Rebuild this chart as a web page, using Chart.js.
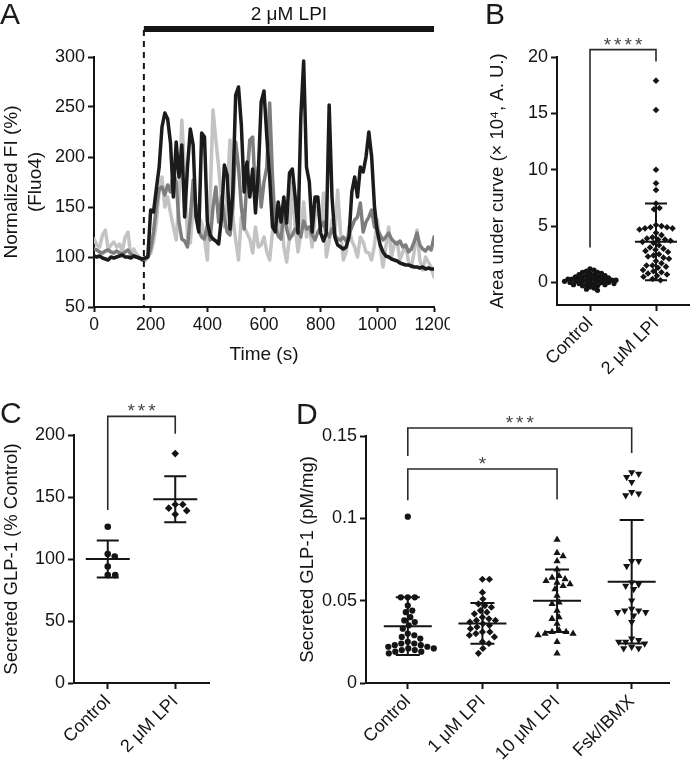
<!DOCTYPE html>
<html>
<head>
<meta charset="utf-8">
<script src="https://cdn.jsdelivr.net/npm/chart.js@4.4.1/dist/chart.umd.min.js"></script>
<style>
  body { margin: 0; background: #fff; width: 693px; height: 764px; position: relative; overflow: hidden;
         font-family: "Liberation Sans", Arial, sans-serif; }
  canvas { position: absolute; }
  .panel { position: absolute; font-size: 30px; line-height: 30px; color: #1a1a1a; }
</style>
</head>
<body>
<canvas id="chartA" width="450" height="370" style="left:0;top:0"></canvas>
<canvas id="chartC" width="250" height="394" style="left:0;top:370px"></canvas>
<canvas id="chartD" width="443" height="394" style="left:250px;top:370px"></canvas>
<canvas id="chartB" width="243" height="385" style="left:450px;top:0"></canvas>
<div class="panel" style="left:0;top:-1px">A</div>
<div class="panel" style="left:485px;top:-1px">B</div>
<div class="panel" style="left:0;top:398px">C</div>
<div class="panel" style="left:296px;top:399px">D</div>
<script>
Chart.defaults.font.family = '"Liberation Sans", Arial, sans-serif';
Chart.defaults.color = '#1a1a1a';

// ---------- A: Fluo4 traces (sampled every 10 s) ----------
const timeSec = Array.from({ length: 121 }, (_, i) => i * 10);
const traceBlack = [
  101,100,101,99,98,97,100,99,100,101,
  102,100,100,99,101,100,99,98,99,100,
  147,145,168,190,230,244,238,214,160,215,
  180,212,140,190,228,212,140,125,224,220,
  135,122,118,116,113,140,192,182,128,165,
  262,270,232,165,195,160,188,144,185,255,
  266,220,180,130,125,155,135,160,134,184,
  188,160,124,240,296,190,175,125,160,160,
  124,116,124,252,160,120,112,110,108,110,
  120,165,180,160,190,185,200,225,200,150,
  125,112,105,101,100,98,97,96,94,93,
  92,92,91,90,90,89,90,88,89,88,
  88
];
const traceDark = [
  108,107,105,104,106,107,105,104,106,104,
  103,105,107,103,101,100,99,97,98,100,
  108,125,150,168,170,162,172,165,184,175,
  135,118,116,110,140,177,145,126,120,118,
  132,117,150,170,135,160,140,125,122,150,
  215,190,150,128,180,217,220,160,190,150,
  175,190,254,180,130,122,118,144,128,118,
  122,128,125,120,136,128,130,122,117,125,
  130,135,125,120,128,122,118,117,120,116,
  122,130,137,140,154,125,135,140,147,130,
  128,122,117,120,124,118,115,113,116,110,
  112,105,108,115,124,112,108,106,110,107,
  120
];
const traceLight = [
  118,112,110,122,127,108,112,115,110,113,
  106,120,125,100,108,103,100,97,96,100,
  104,115,134,167,180,150,160,144,130,117,
  160,237,184,120,114,150,152,140,134,118,
  97,160,247,217,190,157,130,165,217,140,
  117,97,140,130,124,118,104,130,110,112,
  120,105,97,125,140,120,150,110,95,120,
  175,130,105,124,155,120,130,110,140,150,
  130,164,100,115,137,120,167,125,97,105,
  130,116,110,100,120,115,105,104,97,112,
  137,110,90,110,130,100,113,115,97,105,
  112,95,90,105,127,97,87,100,95,90,
  80
];
const aTicksX = [0, 200, 400, 600, 800, 1000, 1200];
const aTicksY = [50, 100, 150, 200, 250, 300];
const lpiStart = 176;      // s
const lpiEnd = 1200;
const lpiText = '2 μM LPI';

// ---------- B: area under curve ----------
const bCats = ['Control', '2 μM LPI'];
const bControl = [1.2,1.1,1.0,0.9,0.9,0.8,0.8,0.7,0.7,0.6,0.6,0.5,0.5,0.5,0.4,0.4,0.4,0.3,0.3,0.3,0.3,
  0.2,0.2,0.2,0.2,0.1,0.1,0.1,0.1,0.0,0.0,0.0,0.0,-0.1,-0.1,-0.1,-0.2,-0.2,-0.2,-0.3,-0.3,-0.4,-0.5,-0.6,-0.7];
const bLPI = [17.9,15.3,10.0,8.8,8.2,7.0,6.6,6.5,5.1,5.0,4.9,4.9,4.8,4.8,4.7,4.4,4.2,4.0,3.9,3.8,3.8,3.7,3.6,3.5,
  3.3,3.1,3.0,2.9,2.8,2.7,2.5,2.4,2.3,2.2,2.1,1.9,1.7,1.5,1.5,1.4,1.3,1.1,1.0,0.9,0.8,0.7,0.6,0.5,0.3,0.2];
const bMean = [0.2, 3.6];
const bSD = [0.4, 3.4];
const bTicksY = [0, 5, 10, 15, 20];
const bBrackets = [{ from: 0, to: 1, y: 20.65, left: 3.1, right: 19.6, text: '****' }];

// ---------- C: GLP-1 % control ----------
const cCats = ['Control', '2 μM LPI'];
const cControl = [126, 104, 102, 94, 87, 87];
const cLPI = [185, 144, 144, 141, 139, 136];
const cMean = [100, 148.2];
const cSD = [15, 18.6];
const cTicksY = [0, 50, 100, 150, 200];
const cBrackets = [{ from: 0, to: 1, y: 215, left: 139.5, right: 201, text: '***' }];

// ---------- D: GLP-1 pM/mg ----------
const dCats = ['Control', '1 μM LPI', '10 μM LPI', 'Fsk/IBMX'];
const dControl = [0.101,0.052,0.052,0.052,0.047,0.044,0.043,0.040,0.038,0.037,0.035,0.033,0.030,0.029,0.028,
  0.027,0.025,0.024,0.024,0.023,0.023,0.022,0.022,0.021,0.021,0.020,0.020,0.019,0.019,0.018];
const d1LPI = [0.063,0.063,0.055,0.051,0.048,0.047,0.046,0.044,0.043,0.042,0.040,0.039,0.038,0.038,
  0.037,0.036,0.035,0.034,0.033,0.031,0.031,0.030,0.029,0.028,0.025,0.024,0.021,0.018];
const d10LPI = [0.087,0.079,0.077,0.074,0.069,0.065,0.064,0.063,0.062,0.061,0.060,0.059,0.057,0.053,
  0.049,0.048,0.044,0.040,0.039,0.036,0.032,0.031,0.031,0.030,0.030,0.029,0.025,0.018];
const dFsk = [0.128,0.127,0.125,0.122,0.116,0.115,0.114,0.074,0.074,0.071,0.061,0.060,0.059,0.057,0.050,
  0.045,0.044,0.044,0.043,0.043,0.041,0.037,0.027,0.026,0.025,0.025,0.024,0.022,0.021,0.021];
const dMean = [0.0345, 0.0362, 0.050, 0.0615];
const dSD = [0.0175, 0.0124, 0.019, 0.0375];
const dTicksY = [0, 0.05, 0.1, 0.15];
const dTickLabels = ['0', '0.05', '0.1', '0.15'];
const dBrackets = [
  { from: 0, to: 3, y: 0.1549, left: 0.1379, right: 0.1397, text: '***' },
  { from: 0, to: 2, y: 0.130, left: 0.111, right: 0.1115, text: '*' }
];

const INK = '#141414';

// ---------- helpers ----------
function fixedBox(size, horizontal) {
  return s => {
    if (horizontal) s.height = size; else s.width = size;
    s.paddingLeft = 0; s.paddingRight = 0; s.paddingTop = 0; s.paddingBottom = 0;
  };
}

function valueAxis(min, max, ticks, width, title, titlePad, labels) {
  return {
    type: 'linear', position: 'left', min, max,
    afterBuildTicks: s => { s.ticks = ticks.map(v => ({ value: v })); },
    afterFit: fixedBox(width, false),
    ticks: { font: { size: 18 }, padding: 3, color: INK,
             callback: (v, i) => labels ? labels[i] : String(v) },
    grid: { drawOnChartArea: false, tickLength: 6, tickWidth: 2, tickColor: INK },
    border: { color: INK, width: 2 },
    title: { display: true, text: title, color: INK,
             font: { size: title.length === 2 ? 19 : 18.5, lineHeight: '24px' },
             padding: { top: titlePad, bottom: 0 } }
  };
}

function groupAxis(cats, min, max, height) {
  return {
    type: 'linear', min, max,
    afterBuildTicks: s => { s.ticks = cats.map((c, i) => ({ value: i })); },
    afterFit: fixedBox(height, true),
    ticks: { autoSkip: false, maxRotation: 45, minRotation: 45, padding: 2, color: INK,
             font: { size: 18 }, callback: v => cats[v] },
    grid: { drawOnChartArea: false, tickLength: 6, tickWidth: 2, tickColor: INK },
    border: { color: INK, width: 2 }
  };
}

function dots(values, group, style, radius, gap, rotation) {
  return {
    type: 'scatter', values, group, gap,
    data: values.map(v => ({ x: group, y: v })),
    pointStyle: style, pointRadius: radius, pointRotation: rotation || 0,
    backgroundColor: INK, borderColor: INK, pointBorderWidth: 0
  };
}

// mean ± SD lines
function summaryBars(means, sds, meanHalf, capHalf) {
  return {
    id: 'summaryBars',
    afterDatasetsDraw(chart) {
      const { ctx, scales: { x, y } } = chart;
      ctx.save();
      ctx.strokeStyle = INK;
      ctx.lineWidth = 2;
      means.forEach((m, i) => {
        const cx = x.getPixelForValue(i);
        const pm = y.getPixelForValue(m);
        const ph = y.getPixelForValue(m + sds[i]);
        const pl = y.getPixelForValue(m - sds[i]);
        ctx.beginPath();
        ctx.moveTo(cx - meanHalf, pm); ctx.lineTo(cx + meanHalf, pm);
        ctx.moveTo(cx, ph); ctx.lineTo(cx, pl);
        ctx.moveTo(cx - capHalf, ph); ctx.lineTo(cx + capHalf, ph);
        ctx.moveTo(cx - capHalf, pl); ctx.lineTo(cx + capHalf, pl);
        ctx.stroke();
      });
      ctx.restore();
    }
  };
}

// significance brackets
function sigBrackets(list) {
  return {
    id: 'sigBrackets',
    afterDraw(chart) {
      const { ctx, scales: { x, y } } = chart;
      ctx.save();
      list.forEach(b => {
        const x1 = x.getPixelForValue(b.from), x2 = x.getPixelForValue(b.to);
        const py = y.getPixelForValue(b.y);
        ctx.strokeStyle = '#2a2a2a';
        ctx.lineWidth = 1.6;
        ctx.beginPath();
        ctx.moveTo(x1, y.getPixelForValue(b.left));
        ctx.lineTo(x1, py);
        ctx.lineTo(x2, py);
        ctx.lineTo(x2, y.getPixelForValue(b.right));
        ctx.stroke();
        ctx.fillStyle = '#444';
        ctx.font = '19px "Liberation Sans", Arial, sans-serif';
        ctx.letterSpacing = '3px';
        ctx.textAlign = 'center';
        ctx.textBaseline = 'alphabetic';
        ctx.fillText(b.text, (x1 + x2) / 2 + 1.5, py + 1);
      });
      ctx.restore();
    }
  };
}

// spread dots sideways so they do not overlap (beeswarm)
function swarm(chart) {
  const { x, y } = chart.scales;
  const unit = x.getPixelForValue(1) - x.getPixelForValue(0);
  chart.data.datasets.forEach(ds => {
    const placed = [];
    const order = ds.values.map((v, i) => i).sort((a, b) => ds.values[b] - ds.values[a]);
    order.forEach(i => {
      const py = y.getPixelForValue(ds.values[i]);
      let off = 0;
      for (let k = 0; k < 400; k++) {
        off = (k % 2 ? 1 : -1) * Math.ceil(k / 2) * 0.5;
        if (placed.every(p => (p.x - off) ** 2 + (p.y - py) ** 2 >= ds.gap * ds.gap)) break;
      }
      placed.push({ x: off, y: py });
      ds.data[i] = { x: ds.group + off / unit, y: ds.values[i] };
    });
  });
  chart.update('none');
}

const baseOpts = {
  responsive: false, animation: false, devicePixelRatio: 1,
  plugins: { legend: { display: false }, tooltip: { enabled: false } }
};

// ---------- Chart A ----------
const lpiMarker = {
  id: 'lpiMarker',
  afterDraw(chart) {
    const { ctx, scales: { x, y } } = chart;
    const xs = x.getPixelForValue(lpiStart), xe = x.getPixelForValue(lpiEnd);
    const barY = y.getPixelForValue(328);
    ctx.save();
    ctx.strokeStyle = INK;
    ctx.lineWidth = 2;
    ctx.setLineDash([6, 5]);
    ctx.beginPath();
    ctx.moveTo(xs, barY + 1);
    ctx.lineTo(xs, y.getPixelForValue(50));
    ctx.stroke();
    ctx.setLineDash([]);
    ctx.lineWidth = 6;
    ctx.beginPath();
    ctx.moveTo(xs, barY);
    ctx.lineTo(xe, barY);
    ctx.stroke();
    ctx.fillStyle = INK;
    ctx.font = '19px "Liberation Sans", Arial, sans-serif';
    ctx.textAlign = 'center';
    ctx.textBaseline = 'alphabetic';
    ctx.fillText(lpiText, (xs + xe) / 2, barY - 9);
    ctx.restore();
  }
};

const trace = (vals, color) => ({
  data: timeSec.map((t, i) => ({ x: t, y: vals[i] })),
  borderColor: color, borderWidth: 3.5, pointRadius: 0, tension: 0,
  borderJoinStyle: 'round', borderCapStyle: 'round', fill: false
});

new Chart(document.getElementById('chartA'), {
  type: 'line',
  data: { datasets: [trace(traceBlack, '#1b1b1b'), trace(traceDark, '#7e7e7e'), trace(traceLight, '#c3c3c3')] },
  options: {
    ...baseOpts,
    layout: { padding: { left: 0, top: 57, right: 16, bottom: 0 } },
    scales: {
      x: {
        type: 'linear', min: 0, max: 1200,
        afterBuildTicks: s => { s.ticks = aTicksX.map(v => ({ value: v })); },
        afterFit: fixedBox(63, true),
        ticks: { font: { size: 17.5 }, padding: 3, color: INK, callback: v => String(v) },
        grid: { drawOnChartArea: false, tickLength: 5, tickWidth: 2, tickColor: INK },
        border: { color: INK, width: 2 },
        title: { display: true, text: 'Time (s)', color: INK, font: { size: 19 }, padding: { top: 0, bottom: 4 } }
      },
      y: valueAxis(50, 300, aTicksY, 94, ['Normalized FI (%)', '(Fluo4)'], 0)
    }
  },
  plugins: [lpiMarker]
});

// ---------- Chart B ----------
const chartB = new Chart(document.getElementById('chartB'), {
  type: 'scatter',
  data: { datasets: [dots(bControl, 0, 'circle', 2.6, 3.8), dots(bLPI, 1, 'rectRot', 3.3, 5.6)] },
  options: {
    ...baseOpts,
    layout: { padding: { left: 0, top: 57, right: 1, bottom: 0 } },
    scales: {
      x: groupAxis(bCats, -0.5, 1.5, 80),
      y: valueAxis(-2, 20, bTicksY, 107, 'Area under curve (× 10⁴, A. U.)', 36)
    }
  },
  plugins: [summaryBars(bMean, bSD, 21, 11), sigBrackets(bBrackets)]
});
swarm(chartB);

// ---------- Chart C ----------
const chartC = new Chart(document.getElementById('chartC'), {
  type: 'scatter',
  data: { datasets: [dots(cControl, 0, 'circle', 3.3, 7.2), dots(cLPI, 1, 'rectRot', 3.8, 7.2)] },
  options: {
    ...baseOpts,
    layout: { padding: { left: 0, top: 65, right: 41, bottom: 0 } },
    scales: {
      x: groupAxis(cCats, -0.5, 1.5, 81),
      y: valueAxis(0, 200, cTicksY, 74, 'Secreted GLP-1 (% Control)', 0)
    }
  },
  plugins: [summaryBars(cMean, cSD, 22, 11), sigBrackets(cBrackets)]
});
swarm(chartC);

// ---------- Chart D ----------
const chartD = new Chart(document.getElementById('chartD'), {
  type: 'scatter',
  data: { datasets: [
    dots(dControl, 0, 'circle', 3.1, 6.6),
    dots(d1LPI, 1, 'rectRot', 3.6, 6.6),
    dots(d10LPI, 2, 'triangle', 4.2, 6.8),
    dots(dFsk, 3, 'triangle', 4.2, 6.8, 180)
  ] },
  options: {
    ...baseOpts,
    layout: { padding: { left: 0, top: 66, right: 24, bottom: 0 } },
    scales: {
      x: groupAxis(dCats, -0.56, 3.5, 81),
      y: valueAxis(0, 0.15, dTicksY, 116, 'Secreted GLP-1 (pM/mg)', 46, dTickLabels)
    }
  },
  plugins: [summaryBars(dMean, dSD, 24, 12), sigBrackets(dBrackets)]
});
swarm(chartD);
</script>
</body>
</html>
